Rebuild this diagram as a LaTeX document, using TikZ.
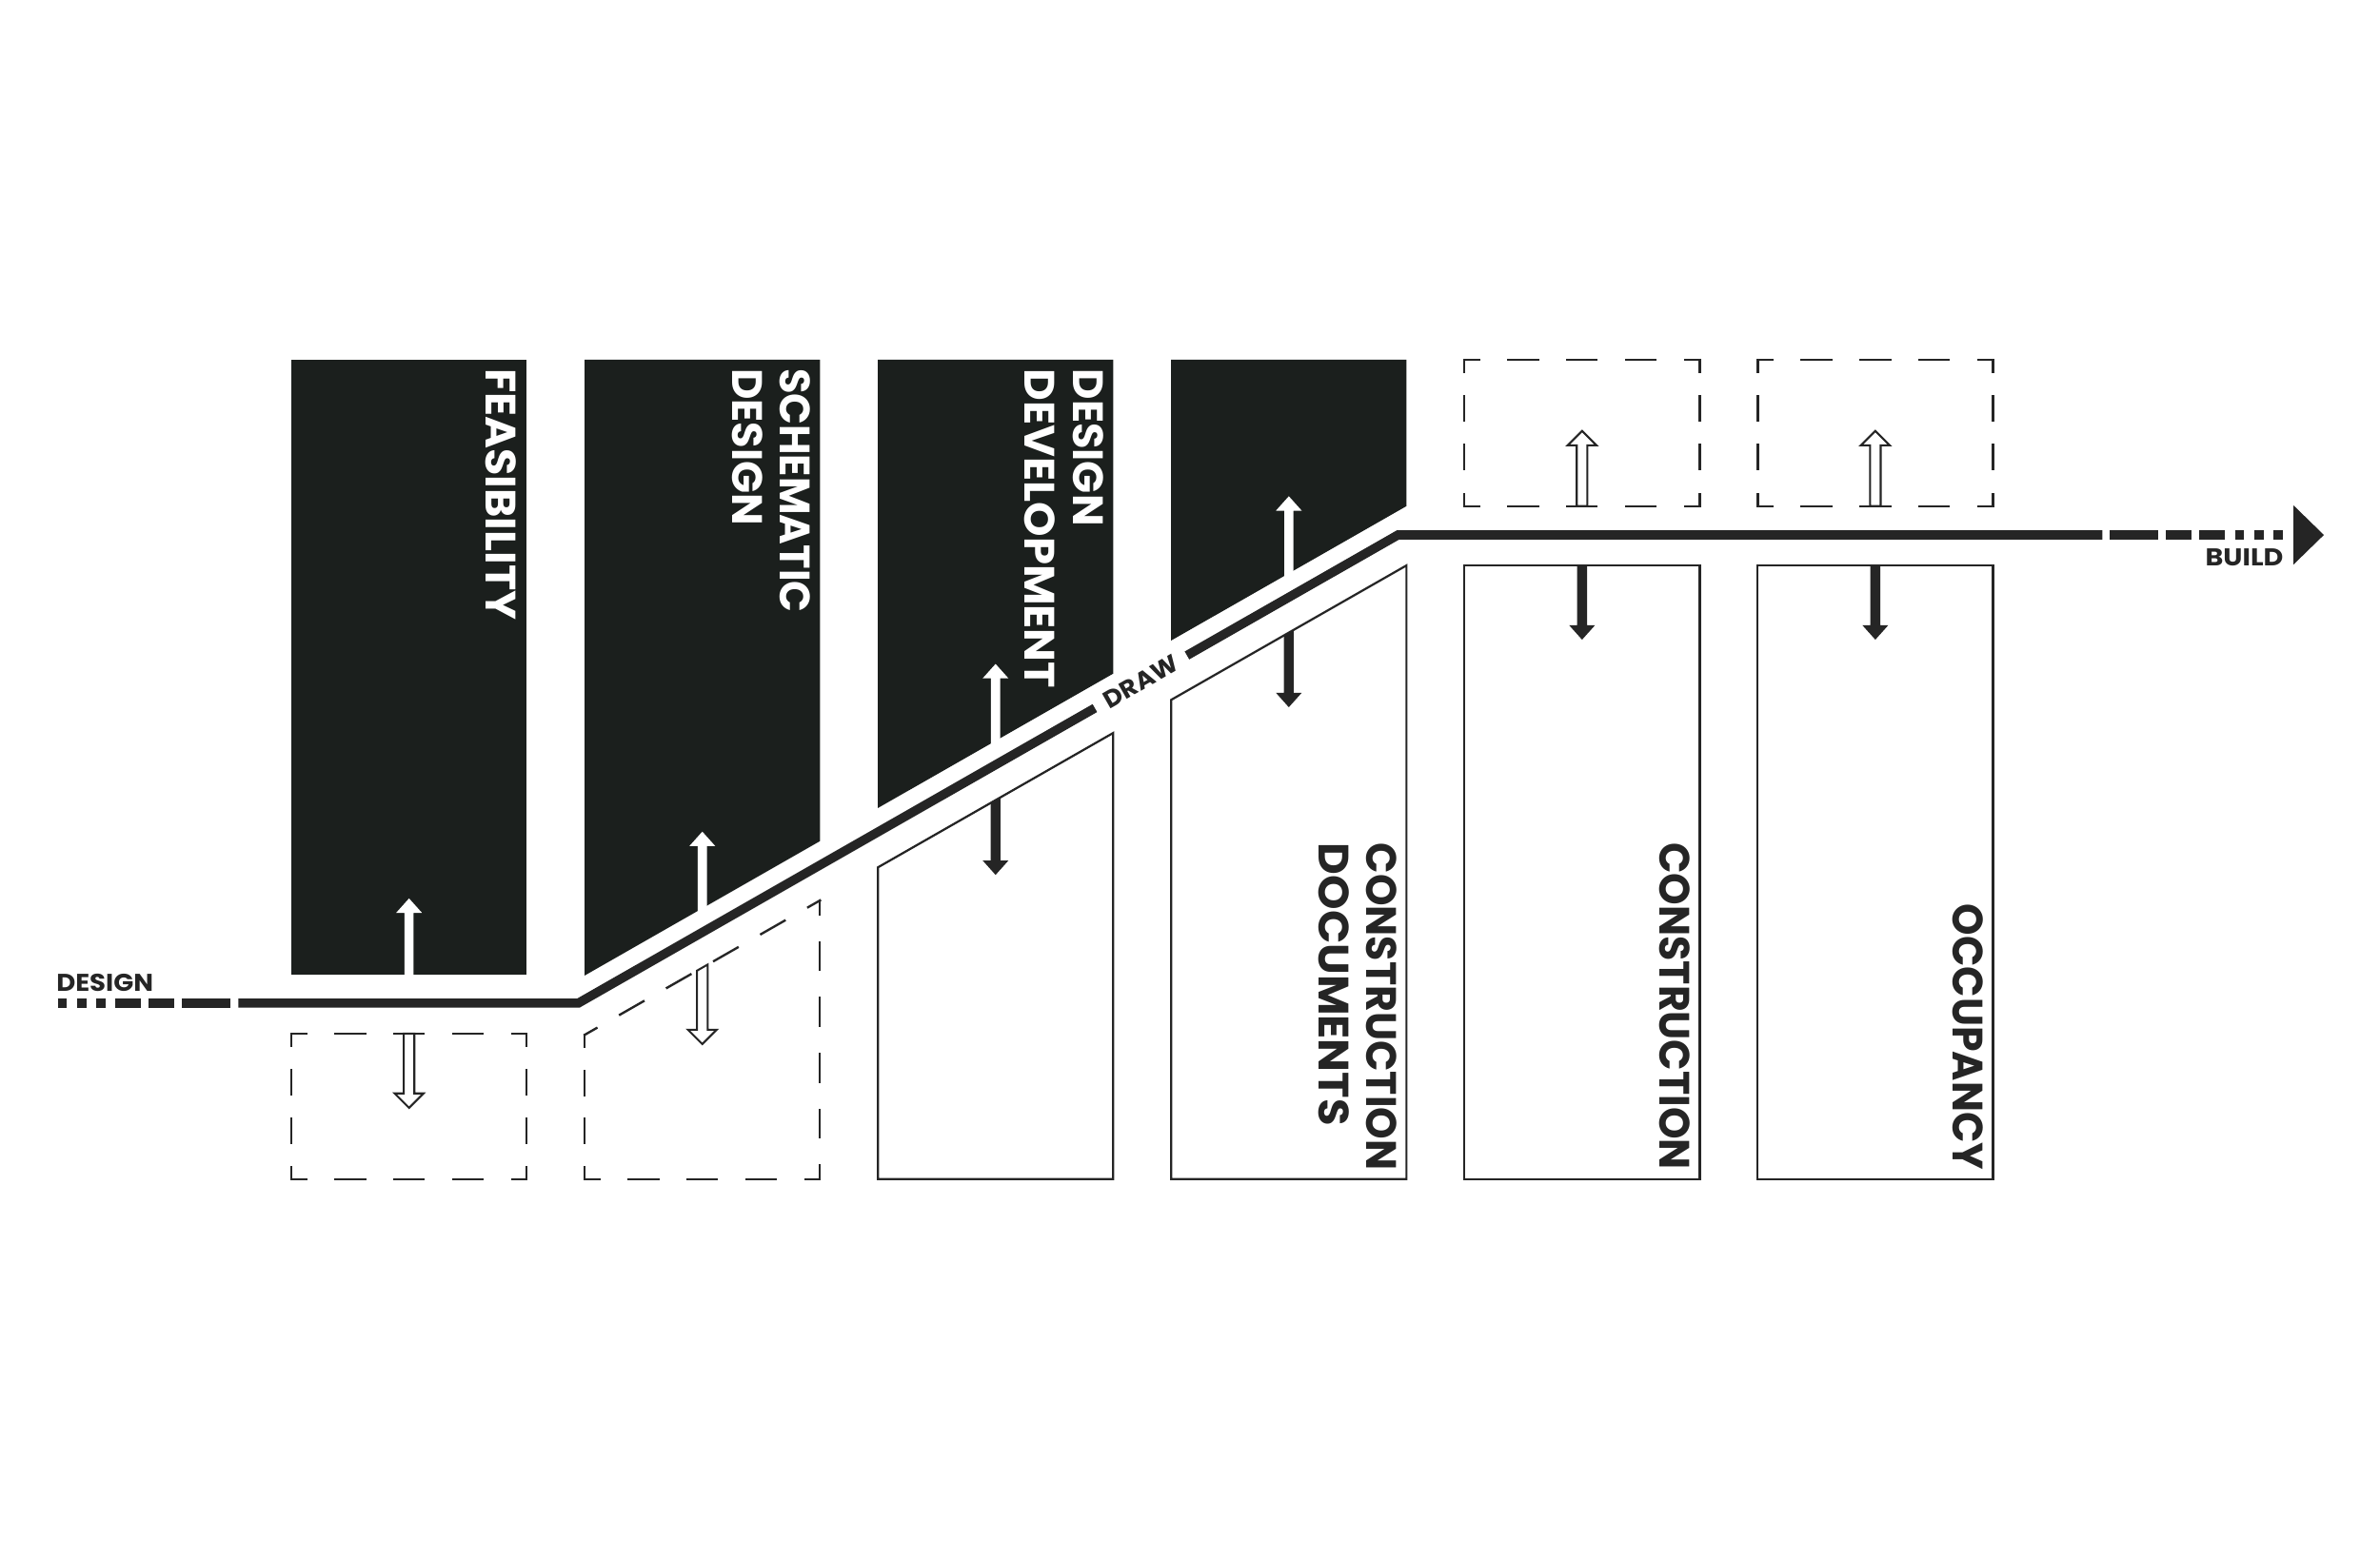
\documentclass[tikz,border=0pt]{standalone}
\usepackage{fontspec}
\setmainfont{Poppins}
\definecolor{boxblack}{HTML}{1B1F1D}
\definecolor{ink}{HTML}{252525}
\newcommand{\DEdge}[4]{\draw[dedge,dash pattern=on #3pt off #3pt,dash phase=#4pt] #1 -- #2;}
\newcommand{\ArrWUp}[3]{\fill[white] ({#1-3},#2) -- ({#1-3},{#3+9.5}) -- ({#1-8.5},{#3+9.5}) -- (#1,#3) -- ({#1+8.5},{#3+9.5}) -- ({#1+3},{#3+9.5}) -- ({#1+3},#2) -- cycle;}
\newcommand{\ArrBDown}[4]{\fill[ink] ({#1-3.25},#2) -- ({#1-3.25},{#4-9.5}) -- ({#1-8.5},{#4-9.5}) -- (#1,#4) -- ({#1+8.5},{#4-9.5}) -- ({#1+3.25},{#4-9.5}) -- ({#1+3.25},#3) -- cycle;}
\newcommand{\ArrHDown}[4]{\draw[hollow] ({#1-3.5},#2) -- ({#1-3.5},{#4-9.5}) -- ({#1-9.5},{#4-9.5}) -- (#1,#4) -- ({#1+9.5},{#4-9.5}) -- ({#1+3.5},{#4-9.5}) -- ({#1+3.5},#3) -- cycle;}
\newcommand{\ArrHUp}[3]{\draw[hollow] ({#1-3.5},#2) -- ({#1-3.5},{#3+9.5}) -- ({#1-9.5},{#3+9.5}) -- (#1,#3) -- ({#1+9.5},{#3+9.5}) -- ({#1+3.5},{#3+9.5}) -- ({#1+3.5},#2) -- cycle;}
\newcommand{\Wd}[2]{\scalebox{#1}[1]{#2}}
\begin{document}
\begin{tikzpicture}[x=1pt,y=-1pt,
  mainline/.style={draw=ink,line width=6pt},
  outl/.style={draw=ink,line width=1.4pt},
  dedge/.style={draw=ink,line width=1.5pt,line cap=rect},
  hollow/.style={draw=ink,fill=white,line width=1.3pt,line join=miter},
  biglabel/.style={font=\fontsize{28}{31.6}\selectfont\bfseries,inner sep=0pt,align=left,rotate=-90},
  smalllabel/.style={font=\fontsize{16}{19}\selectfont\bfseries,inner sep=0pt,text=ink}]
\useasboundingbox (0,0) rectangle (1568,1015);

% black upper blocks
\fill[boxblack] (192,237) rectangle (347,642);
\fill[boxblack] (385.2,237) -- (540.2,237) -- (540.2,554.25) -- (385.2,642.8) -- cycle;
\fill[boxblack] (578.4,237) -- (733.4,237) -- (733.4,443.87) -- (578.4,532.43) -- cycle;
\fill[boxblack] (771.6,237) -- (926.6,237) -- (926.6,333.5) -- (771.6,422.05) -- cycle;

% solid outline blocks
\draw[outl] (578.4,571.53) -- (733.4,482.97) -- (733.4,777) -- (578.4,777) -- cycle;
\draw[outl] (771.6,461.15) -- (926.6,372.6) -- (926.6,777) -- (771.6,777) -- cycle;
\draw[outl] (964.8,372.5) rectangle (1119.8,777);
\draw[outl] (1158,372.5) rectangle (1313,777);

% dashed blocks
\DEdge{(192,681)}{(347,681)}{19.375}{9.6875}
\DEdge{(192,777)}{(347,777)}{19.375}{9.6875}
\DEdge{(192,681)}{(192,777)}{16}{8}
\DEdge{(347,681)}{(347,777)}{16}{8}
\DEdge{(385.2,681.9)}{(540.2,593.35)}{17.85}{8.925}
\DEdge{(540.2,593.35)}{(540.2,777)}{18.37}{9.18}
\DEdge{(385.2,777)}{(540.2,777)}{19.375}{9.6875}
\DEdge{(385.2,681.9)}{(385.2,777)}{15.85}{7.93}
\DEdge{(964.8,237)}{(1119.8,237)}{19.375}{9.6875}
\DEdge{(964.8,333.5)}{(1119.8,333.5)}{19.375}{9.6875}
\DEdge{(964.8,237)}{(964.8,333.5)}{16.08}{8.04}
\DEdge{(1119.8,237)}{(1119.8,333.5)}{16.08}{8.04}
\DEdge{(1158,237)}{(1313,237)}{19.375}{9.6875}
\DEdge{(1158,333.5)}{(1313,333.5)}{19.375}{9.6875}
\DEdge{(1158,237)}{(1158,333.5)}{16.08}{8.04}
\DEdge{(1313,237)}{(1313,333.5)}{16.08}{8.04}

% main line
\coordinate (lstart) at (38,661);
\coordinate (lsolid) at (157,661);
\coordinate (kinkL) at (381,661);
\coordinate (drawL) at (721.3,466.6);
\coordinate (drawR) at (782,431.9);
\coordinate (kinkR) at (921,352.5);
\coordinate (rsolid) at (1385,352.5);
\coordinate (rdash) at (1390,352.5);
\coordinate (rend) at (1504,352.5);
\draw[mainline,dash pattern=on 6pt off 6.8pt on 6pt off 6.8pt on 6pt off 6.4pt on 17pt off 5pt on 17pt off 5pt on 32pt off 20pt] (lstart) -- (lsolid);
\draw[mainline] (lsolid) -- (kinkL) -- (drawL);
\draw[mainline] (drawR) -- (kinkR) -- (rsolid);
\draw[mainline,dash pattern=on 32pt off 5pt on 17pt off 5pt on 17pt off 6.4pt on 6pt off 6.8pt on 6pt off 6.8pt on 6pt off 20pt] (rdash) -- (rend);
\fill[ink] (1511,333) -- (1531,352.5) -- (1511,372) -- cycle;

% arrows
\ArrWUp{269.5}{644}{592}
\ArrWUp{462.7}{601}{548}
\ArrWUp{655.9}{490}{437.5}
\ArrWUp{849.1}{380}{327}
\ArrBDown{655.9}{529.1}{525.4}{576.5}
\ArrBDown{849.1}{418.76}{415.04}{466}
\ArrBDown{1042.3}{372.5}{372.5}{421.5}
\ArrBDown{1235.5}{372.5}{372.5}{421.5}
\ArrHDown{269.5}{681}{681}{730}
\ArrHDown{462.7}{639.6}{635.6}{688}
\ArrHUp{1042.3}{333.5}{284}
\ArrHUp{1235.5}{333.5}{284}

% labels
\node[biglabel,text=white,anchor=north west] (feas) at (340.5,242.6) {\Wd{1.034}{FEASIBILITY}};
\node[biglabel,text=white,anchor=north west] (schem) at (534.2,242.6) {\Wd{0.965}{SCHEMATIC}\\DESIGN};
\node[biglabel,text=white,anchor=north west] (dd) at (727.2,243) {DESIGN\\\Wd{1.04}{DEVELOPMENT}};
\node[biglabel,text=ink,anchor=north east] (cd) at (920.6,771.2) {\Wd{0.956}{CONSTRUCTION}\\\Wd{1.04}{DOCUMENTS}};
\node[biglabel,text=ink,anchor=north east] (cons) at (1113.8,771) {\Wd{0.956}{CONSTRUCTION}};
\node[biglabel,text=ink,anchor=north east] (occ) at (1307,771) {\Wd{0.953}{OCCUPANCY}};
\node[smalllabel,anchor=base west] (design) at (37,653) {\Wd{1.08}{DESIGN}};
\node[smalllabel,anchor=base east] (build) at (1504.5,373) {\Wd{1.12}{BUILD}};
\node[smalllabel,rotate=29.74] (drawlbl) at (751.65,449.25) {\Wd{1.06}{DRAW}};
\end{tikzpicture}
\end{document}
